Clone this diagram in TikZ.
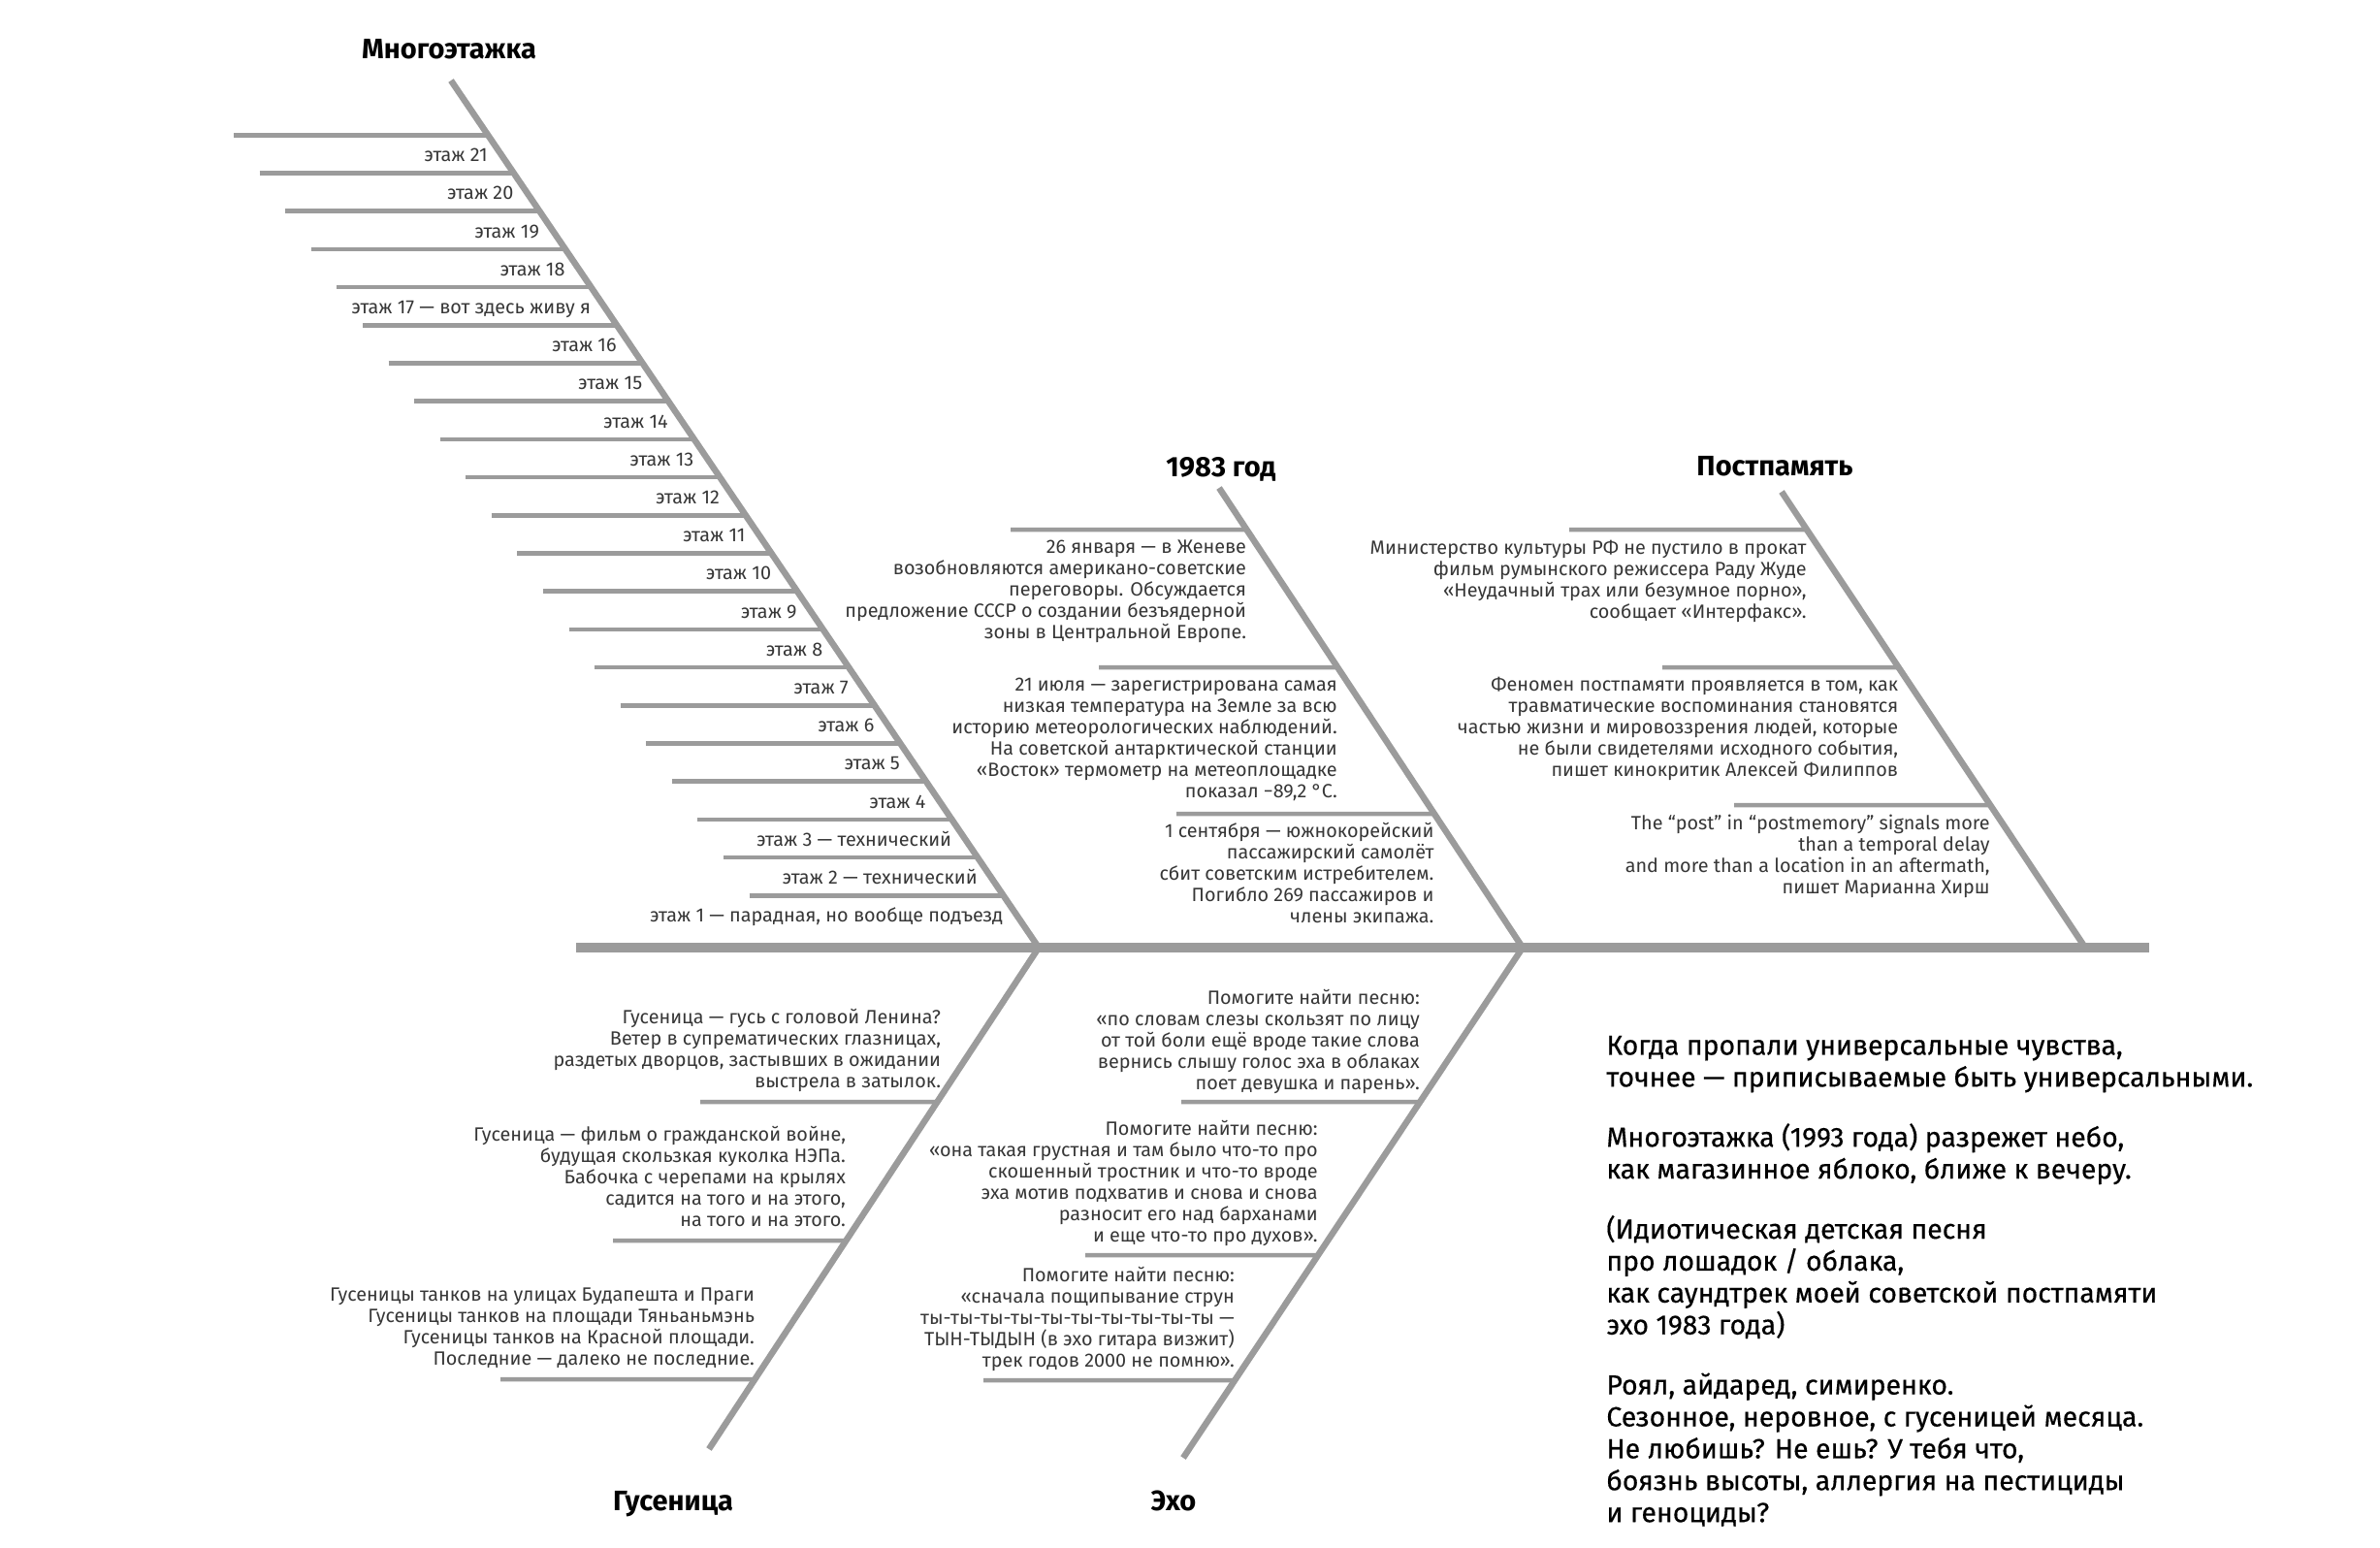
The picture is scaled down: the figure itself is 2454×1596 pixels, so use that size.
\documentclass[tikz,border=0pt]{standalone}
\usepackage{fontspec}
\setmainfont{Fira Sans}
\newfontfamily\poemfam{Fira Sans}[FakeBold=0.4]
\usetikzlibrary{calc}
\definecolor{bonegray}{RGB}{155,155,155}
\definecolor{inkc}{RGB}{55,55,55}
\newcommand\bodyf{\fontsize{9.9pt}{11pt}\selectfont}
\newcommand\ttlf{\fontsize{14.5pt}{17pt}\selectfont\bfseries}
\newcommand\poemf{\poemfam\fontsize{14.2pt}{16.45pt}\selectfont}
\begin{document}
\begin{tikzpicture}[x=0.5pt,y=-0.5pt,
  spine/.style={draw=bonegray,line width=5pt},
  bone/.style={draw=bonegray,line width=3.25pt},
  rib/.style={draw=bonegray,line width=2.25pt},
  floorlbl/.style={anchor=base east,inner sep=0pt,font=\bodyf,text=inkc},
  upblk/.style={anchor=north east,inner sep=0pt,align=right,font=\bodyf,text=inkc},
  dnblk/.style={anchor=south east,inner sep=0pt,align=right,font=\bodyf,text=inkc},
  ttl/.style={anchor=base,inner sep=0pt,font=\ttlf,text=black},
  poem/.style={anchor=north west,inner sep=0pt,align=left,font=\poemf,text=black}]
\fill[white,use as bounding box] (0,0) rectangle (2454,1596);

% junctions and bone ends
\coordinate (sl) at (594,977);
\coordinate (sr) at (2216,977);
\coordinate (j1) at (1071,977);
\coordinate (j2) at (1570,977);
\coordinate (j3) at (2150,977);
\coordinate (mtop) at (465,83);
\coordinate (ytop) at (1257,503);
\coordinate (ptop) at (1837,507);
\coordinate (gbot) at (731,1494);
\coordinate (ebot) at (1220,1503);

% ===== Многоэтажка ribs
\foreach \i/\txt in {21/этаж 21,20/этаж 20,19/этаж 19,18/этаж 18,
  17/{этаж 17 — вот здесь  живу я},16/этаж 16,15/этаж 15,14/этаж 14,13/этаж 13,
  12/этаж 12,11/этаж 11,10/этаж 10,9/этаж 9,8/этаж 8,7/этаж 7,6/этаж 6,5/этаж 5,4/этаж 4,
  3/{этаж 3 — технический},2/{этаж 2 — технический},1/{этаж 1 — парадная, но вообще подъезд}}{
  \pgfmathsetmacro\myy{139.3+39.2*(21-\i)}
  \pgfmathsetmacro\mypos{(\myy-83)/894}
  \coordinate (mr\i) at ($(mtop)!\mypos!(j1)$);
  \coordinate (ml\i) at ($(mr\i)+(-262,0)$);
  \draw[rib] (ml\i) -- (mr\i);
  \node[floorlbl] (mt\i) at ($(mr\i)+(0,27.5)$) {\txt};
}

% ===== 1983 ribs
\coordinate (yr1) at ($(ytop)!{(546-503)/474}!(j2)$);
\coordinate (yr2) at ($(ytop)!{(688-503)/474}!(j2)$);
\coordinate (yr3) at ($(ytop)!{(839-503)/474}!(j2)$);
\coordinate (yl1) at (1042,546);
\coordinate (yl2) at (1133,688);
\coordinate (yl3) at (1213,839);
\draw[rib] (yl1) -- (yr1);
\draw[rib] (yl2) -- (yr2);
\draw[rib] (yl3) -- (yr3);

% ===== Постпамять ribs
\coordinate (pr1) at ($(ptop)!{(546-507)/470}!(j3)$);
\coordinate (pr2) at ($(ptop)!{(688-507)/470}!(j3)$);
\coordinate (pr3) at ($(ptop)!{(830-507)/470}!(j3)$);
\coordinate (pl1) at (1618,546);
\coordinate (pl2) at (1714,688);
\coordinate (pl3) at (1788,830);
\draw[rib] (pl1) -- (pr1);
\draw[rib] (pl2) -- (pr2);
\draw[rib] (pl3) -- (pr3);

% ===== Гусеница ribs
\coordinate (gr1) at ($(j1)!{(1136-977)/517}!(gbot)$);
\coordinate (gr2) at ($(j1)!{(1279-977)/517}!(gbot)$);
\coordinate (gr3) at ($(j1)!{(1422-977)/517}!(gbot)$);
\coordinate (gl1) at (722,1136);
\coordinate (gl2) at (632,1279);
\coordinate (gl3) at (516,1422);
\draw[rib] (gl1) -- (gr1);
\draw[rib] (gl2) -- (gr2);
\draw[rib] (gl3) -- (gr3);

% ===== Эхо ribs
\coordinate (er1) at ($(j2)!{(1136-977)/526}!(ebot)$);
\coordinate (er2) at ($(j2)!{(1294-977)/526}!(ebot)$);
\coordinate (er3) at ($(j2)!{(1423-977)/526}!(ebot)$);
\coordinate (el1) at (1218,1136);
\coordinate (el2) at (1119,1294);
\coordinate (el3) at (1014,1423);
\draw[rib] (el1) -- (er1);
\draw[rib] (el2) -- (er2);
\draw[rib] (el3) -- (er3);

% ===== bones and spine
\draw[bone] (mtop) -- (j1);
\draw[bone] (ytop) -- (j2);
\draw[bone] (ptop) -- (j3);
\draw[bone] (j1) -- (gbot);
\draw[bone] (j2) -- (ebot);
\draw[spine] (sl) -- (sr);

% ===== titles
\node[ttl] (tm) at (463,60) {Многоэтажка};
\node[ttl] (ty) at (1259,491) {1983 год};
\node[ttl] (tp) at (1830,490) {Постпамять};
\node[ttl] (tg) at (694,1557) {Гусеница};
\node[ttl] (te) at (1210,1557) {Эхо};

% ===== 1983 texts
\node[upblk] (y1) at ($(yr1)+(0,8.6)$) {\strut 26 января — в Женеве\\возобновляются американо-советские\\переговоры. Обсуждается\\предложение СССР о создании безъядерной\\зоны в Центральной Европе.};
\node[upblk] (y2) at ($(yr2)+(0,8.6)$) {\strut 21 июля — зарегистрирована самая\\низкая температура на Земле за всю\\историю метеорологических наблюдений.\\На советской антарктической станции\\«Восток» термометр на метеоплощадке\\показал −89,2 °C.};
\node[upblk] (y3) at ($(yr3)+(0,8.6)$) {\strut 1 сентября — южнокорейский\\пассажирский самолёт\\сбит советским истребителем.\\Погибло 269 пассажиров и\\члены экипажа.};

% ===== Постпамять texts
\node[upblk] (p1) at ($(pr1)+(0,9.6)$) {\strut Министерство культуры РФ не пустило в прокат\\фильм румынского режиссера Раду Жуде\\«Неудачный трах или безумное порно»,\\сообщает «Интерфакс».};
\node[upblk] (p2) at ($(pr2)+(0,8.6)$) {\strut Феномен постпамяти проявляется в том, как\\травматические воспоминания становятся\\частью жизни и мировоззрения людей, которые\\не были свидетелями исходного события,\\пишет кинокритик Алексей Филиппов};
\node[upblk] (p3) at ($(pr3)+(0,9.6)$) {\strut The “post” in “postmemory” signals more\\than a temporal delay\\and more than a location in an aftermath,\\пишет Марианна Хирш};

% ===== Гусеница texts
\node[dnblk] (g1) at ($(gr1)+(4,-7.5)$) {Гусеница — гусь с головой Ленина?\\Ветер в супрематических  глазницах,\\раздетых дворцов, застывших в ожидании\\выстрела в затылок.\strut};
\node[dnblk] (g2) at ($(gr2)+(0,-7.5)$) {Гусеница — фильм о гражданской войне,\\будущая скользкая куколка НЭПа.\\Бабочка с черепами на крылях\\садится на того и на этого,\\на того и на этого.\strut};
\node[dnblk] (g3) at ($(gr3)+(0,-7.5)$) {Гусеницы танков на улицах Будапешта и Праги\\Гусеницы танков на площади Тяньаньмэнь\\Гусеницы танков на Красной площади.\\Последние — далеко не последние.\strut};

% ===== Эхо texts
\node[dnblk] (e1) at ($(er1)+(0,-6)$) {Помогите найти песню:\\«по словам слезы скользят по лицу\\от той боли ещё вроде такие слова\\вернись слышу голос эха в облаках\\поет девушка и парень».\strut};
\node[dnblk] (e2) at ($(er2)+(0,-6.5)$) {Помогите найти песню:\\«она такая грустная и там было что-то про\\скошенный тростник и что-то вроде\\эха мотив подхватив и снова и снова\\разносит его над барханами\\и еще что-то про духов».\strut};
\node[dnblk] (e3) at ($(er3)+(0,-6.5)$) {Помогите найти песню:\\«сначала пощипывание струн\\ты-ты-ты-ты-ты-ты-ты-ты-ты-ты —\\ТЫН-ТЫДЫН (в эхо гитара визжит)\\трек годов 2000 не помню».\strut};

% ===== poem block
\node[poem] (poem) at (1656,1064) {\strut Когда пропали универсальные чувства,\\точнее — приписываемые быть универсальными.\\[14.5pt]
Многоэтажка (1993 года) разрежет небо,\\как магазинное яблоко, ближе к вечеру.\\[14.5pt]
(Идиотическая детская песня\\про лошадок / облака,\\как саундтрек моей советской постпамяти\\эхо 1983 года)\\[14.5pt]
Роял, айдаред, симиренко.\\Сезонное, неровное, с гусеницей месяца.\\Не любишь? Не ешь? У тебя что,\\боязнь высоты, аллергия на пестициды\\и геноциды?};
\end{tikzpicture}
\end{document}
